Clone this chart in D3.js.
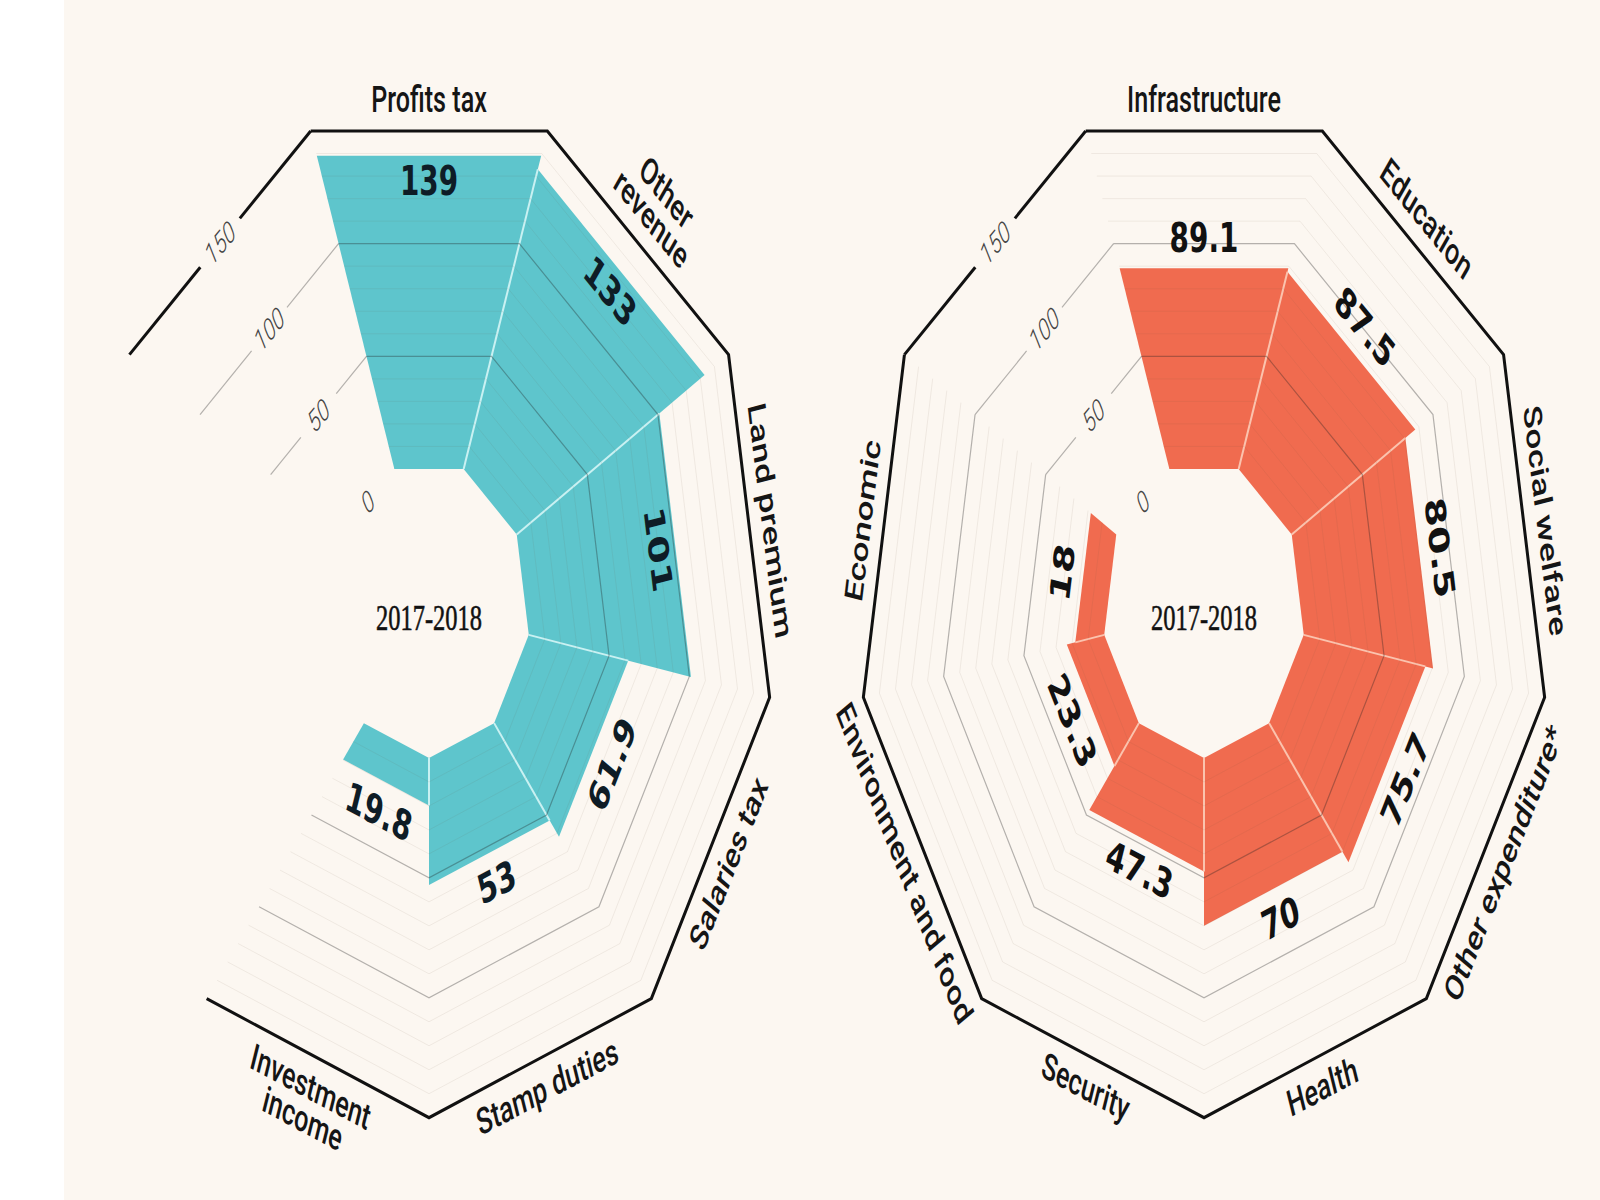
<!DOCTYPE html>
<html>
<head>
<meta charset="utf-8">
<script src="https://cdn.jsdelivr.net/npm/d3@7"></script>
<style>
  body { margin: 0; background: #fff; }
  svg { display: block; }
</style>
</head>
<body>
<svg id="chart" width="1600" height="1200"></svg>
<script>
// Government revenue (left) and expenditure (right), 2017-2018
const revenueLabels = [["Profits tax"], ["Other", "revenue"], ["Land premium"], ["Salaries tax"], ["Stamp duties"], ["Investment", "income"]];
const revenueValues = [139, 133, 101, 61.9, 53, 19.8];

const spendLabels = [["Infrastructure"], ["Education"], ["Social welfare"], ["Other expenditure*"], ["Health"], ["Security"], ["Environment and food"], ["Economic"]];
const spendValues = [89.1, 87.5, 80.5, 75.7, 70, 47.3, 23.3, 18];

const axisTicks = [0, 50, 100, 150];
const yearLabel = "2017-2018";

const W = 1600, H = 1200;
const nSlots = 9;              // 9-sided frame, last slot holds the axis
const half = 180 / nSlots;     // half width of a slot in degrees
const cosH = Math.cos(half * Math.PI / 180);
const cy = 609, sx = 0.68;     // the whole figure is drawn squeezed horizontally

const r = d3.scaleLinear().domain([0, 150]).range([140, 478]);
const slotAngle = d3.scaleLinear().domain([0, nSlots]).range([0, 360]);

const svg = d3.select("#chart");
svg.append("rect").attr("width", W).attr("height", H).attr("fill", "#fcf7f1");
svg.append("rect").attr("width", 64).attr("height", H).attr("fill", "#ffffff");

// vertex of a ring with apothem apo, at angle deg (0 = up, clockwise)
function pt(deg, apo) {
  const a = deg * Math.PI / 180, rv = apo / cosH;
  return [Math.sin(a) * rv, -Math.cos(a) * rv];
}
// middle of the edge of a ring
function mid(deg, apo) {
  const a = deg * Math.PI / 180;
  return [Math.sin(a) * apo, -Math.cos(a) * apo];
}
// keep text upright
function rot(deg) {
  return (deg > 90 && deg < 270) ? deg - 180 : deg;
}
// the edge split in two around a gap for a label
function edgeWithGap(deg, apo, gap) {
  const p1 = pt(deg - half, apo), p2 = pt(deg + half, apo);
  const len = Math.hypot(p2[0] - p1[0], p2[1] - p1[1]);
  const lerp = t => [p1[0] + (p2[0] - p1[0]) * t, p1[1] + (p2[1] - p1[1]) * t];
  const t0 = 0.5 - gap / len, t1 = 0.5 + gap / len;
  return [[p1, lerp(t0)], [lerp(t1), p2]];
}

const line = d3.line();

function drawChart(cx, labels, values, fill, sepColor, numColor) {
  const g = svg.append("g").attr("transform", `translate(${cx},${cy}) scale(${sx},1)`);
  const slots = d3.range(values.length);
  const axisSlot = nSlots - 1;
  const aAxis = slotAngle(axisSlot);

  // bars
  g.selectAll("path.bar").data(values).join("path")
    .attr("class", "bar")
    .attr("d", (v, i) => {
      const a = slotAngle(i);
      return line([pt(a - half, r(0)), pt(a - half, r(v)), pt(a + half, r(v)), pt(a + half, r(0))]) + "Z";
    })
    .attr("fill", fill);

  // thin light gaps between neighbouring bars
  g.selectAll("path.sep").data(slots.slice(0, -1)).join("path")
    .attr("class", "sep")
    .attr("d", i => {
      const a = slotAngle(i) + half;
      return line([pt(a, r(0)), pt(a, r(Math.min(values[i], values[i + 1])))]);
    })
    .attr("stroke", sepColor)
    .attr("stroke-width", 2)
    .attr("vector-effect", "non-scaling-stroke");

  // minor grid every 10 (category sectors only)
  const minor = d3.range(10, 150, 10).filter(v => v % 50 !== 0);
  const minorSegs = [];
  slots.forEach(i => minor.forEach(v => {
    const a = slotAngle(i);
    minorSegs.push([pt(a - half, r(v)), pt(a + half, r(v))]);
  }));
  g.selectAll("path.minor").data(minorSegs).join("path")
    .attr("class", "minor")
    .attr("d", d => line(d))
    .attr("stroke", "#6b5a48")
    .attr("stroke-opacity", 0.09)
    .attr("stroke-width", 1)
    .attr("fill", "none")
    .attr("vector-effect", "non-scaling-stroke");

  // major grid at 50 and 100
  const majorSegs = [];
  [50, 100].forEach(v => {
    majorSegs.push(line(slots.map(i => pt(slotAngle(i) - half, r(v))).concat([pt(slotAngle(slots.length - 1) + half, r(v))])));
    edgeWithGap(aAxis, r(v), 34).forEach(s => majorSegs.push(line(s)));
  });
  g.selectAll("path.major").data(majorSegs).join("path")
    .attr("class", "major")
    .attr("d", d => d)
    .attr("stroke", "#222")
    .attr("stroke-opacity", 0.33)
    .attr("stroke-width", 1.2)
    .attr("fill", "none")
    .attr("vector-effect", "non-scaling-stroke");

  // outer frame = 150
  const frameSegs = [line(slots.map(i => pt(slotAngle(i) - half, r(150))).concat([pt(slotAngle(slots.length - 1) + half, r(150))]))];
  edgeWithGap(aAxis, r(150), 38).forEach(s => frameSegs.push(line(s)));
  g.selectAll("path.frame").data(frameSegs).join("path")
    .attr("class", "frame")
    .attr("d", d => d)
    .attr("stroke", "#111")
    .attr("stroke-width", 3)
    .attr("stroke-linejoin", "miter")
    .attr("fill", "none")
    .attr("vector-effect", "non-scaling-stroke");

  // axis tick labels
  g.selectAll("text.tick").data(axisTicks).join("text")
    .attr("class", "tick")
    .attr("transform", v => { const p = mid(aAxis, r(v)); return `translate(${p[0]},${p[1]}) rotate(${rot(aAxis)})`; })
    .attr("text-anchor", "middle")
    .attr("dominant-baseline", "central")
    .attr("font-family", "Roboto, sans-serif")
    .attr("font-style", "italic")
    .attr("font-weight", 300)
    .attr("font-size", 30)
    .attr("fill", "#444")
    .text(v => v);

  // category labels outside the frame
  const lh = 34;
  const cat = g.selectAll("text.cat").data(labels).join("text")
    .attr("class", "cat")
    .attr("transform", (d, i) => {
      const a = slotAngle(i);
      const p = mid(a, r(150) + 31 + (d.length - 1) * lh / 2);
      return `translate(${p[0]},${p[1]}) rotate(${rot(a)})`;
    })
    .attr("text-anchor", "middle")
    .attr("font-family", "Roboto, sans-serif")
    .attr("font-weight", 500)
    .attr("font-size", 37)
    .attr("fill", "#151515");
  cat.selectAll("tspan").data(d => d.map((t, k) => ({ t, k, n: d.length }))).join("tspan")
    .attr("x", 0)
    .attr("y", d => (d.k - (d.n - 1) / 2) * lh)
    .attr("dominant-baseline", "central")
    .text(d => d.t);

  // value labels
  g.selectAll("text.val").data(values).join("text")
    .attr("class", "val")
    .attr("transform", (v, i) => {
      const a = slotAngle(i);
      const p = mid(a, v >= 100 ? r(v) - 25 : r(v) + 31);
      return `translate(${p[0]},${p[1]}) rotate(${rot(a)})`;
    })
    .attr("text-anchor", "middle")
    .attr("dominant-baseline", "central")
    .attr("font-family", "'DejaVu Sans', sans-serif")
    .attr("font-weight", "bold")
    .attr("font-size", 41)
    .attr("fill", numColor)
    .text(v => v);

  // year in the middle
  g.append("text")
    .attr("x", 0).attr("y", 9)
    .attr("text-anchor", "middle")
    .attr("dominant-baseline", "central")
    .attr("font-family", "'Liberation Serif', serif")
    .attr("font-size", 36)
    .attr("fill", "#111")
    .attr("stroke", "#111")
    .attr("stroke-width", 0.6)
    .text(yearLabel);
}

drawChart(429, revenueLabels, revenueValues, "#5ec5cc", "#c9f1f2", "#0e1c26");
drawChart(1204, spendLabels, spendValues, "#f06b4f", "#fbc3ae", "#111");
</script>
</body>
</html>
